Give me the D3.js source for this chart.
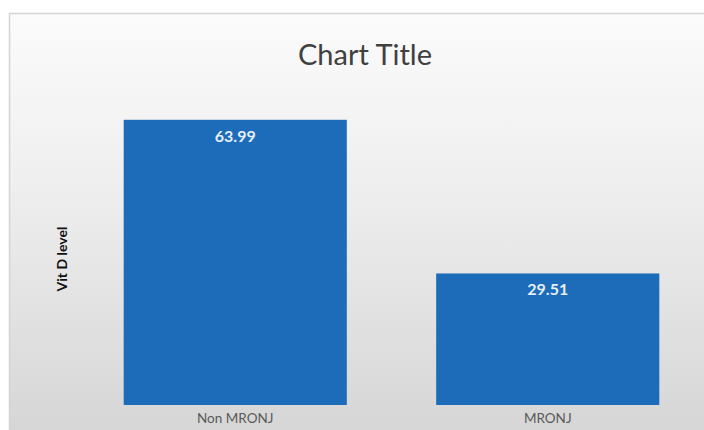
<!DOCTYPE html>
<html><head><meta charset="utf-8">
<script src="https://cdn.jsdelivr.net/npm/d3@7"></script>
<style>html,body{margin:0;padding:0;background:#fff;overflow:hidden;width:704px;height:430px}svg{display:block;overflow:hidden}</style>
</head><body>
<script>
const categories = ["Non MRONJ", "MRONJ"];
const values = [63.99, 29.51];
const labels = ["63.99", "29.51"];
const chartTitle = "Chart Title";
const yTitle = "Vit D level";

const W = 704, H = 430;
const svg = d3.select("body").append("svg").attr("width", W).attr("height", H);
const defs = svg.append("defs");
const g = defs.append("linearGradient").attr("id","bg").attr("x1",0).attr("y1",0).attr("x2",0).attr("y2",1);
g.append("stop").attr("offset","0%").attr("stop-color","#fbfbfb");
g.append("stop").attr("offset","40%").attr("stop-color","#efefef");
g.append("stop").attr("offset","100%").attr("stop-color","#d6d6d6");

svg.append("rect").attr("x",9.5).attr("y",13.5).attr("width",W-9.5).attr("height",H-13.5)
  .attr("fill","url(#bg)");
svg.append("path").attr("d",`M9.5,${H}V13.5H${W}`).attr("fill","none")
  .attr("stroke","#d4d4d4").attr("stroke-width",1.5);

const x = d3.scaleBand().domain(categories).range([79, 704]).paddingInner(0.286).paddingOuter(0.143);
const y = d3.scaleLinear().domain([0, 70]).range([405, 93]);

svg.append("g").selectAll("rect").data(values).join("rect")
  .attr("x",(d,i)=>x(categories[i])).attr("y",d=>y(d))
  .attr("width",x.bandwidth()).attr("height",d=>y(0)-y(d))
  .attr("fill","#1c6cb9");

svg.append("g").selectAll("text").data(values).join("text")
  .attr("x",(d,i)=>x(categories[i])+x.bandwidth()/2).attr("y",d=>y(d)+22)
  .attr("text-anchor","middle").attr("fill","#e6eef6")
  .attr("font-family","Lato, sans-serif").attr("font-weight","bold").attr("font-size",16)
  .text((d,i)=>labels[i]);

const xAxis = svg.append("g").attr("transform",`translate(0,${y(0)})`)
  .call(d3.axisBottom(x).tickSize(0).tickPadding(8));
xAxis.select(".domain").remove();
xAxis.selectAll("text").attr("fill","#595959").attr("font-family","Lato, sans-serif").attr("font-size",13.5);

svg.append("text").attr("x",365).attr("y",65).attr("text-anchor","middle")
  .attr("fill","#404040").attr("font-family","Lato, sans-serif").attr("font-size",29)
  .text(chartTitle);

svg.append("text").attr("transform","translate(67,259) rotate(-90)").attr("text-anchor","middle")
  .attr("fill","#111").attr("font-family","Lato, sans-serif").attr("font-weight","bold").attr("font-size",14)
  .text(yTitle);
</script>
</body></html>
